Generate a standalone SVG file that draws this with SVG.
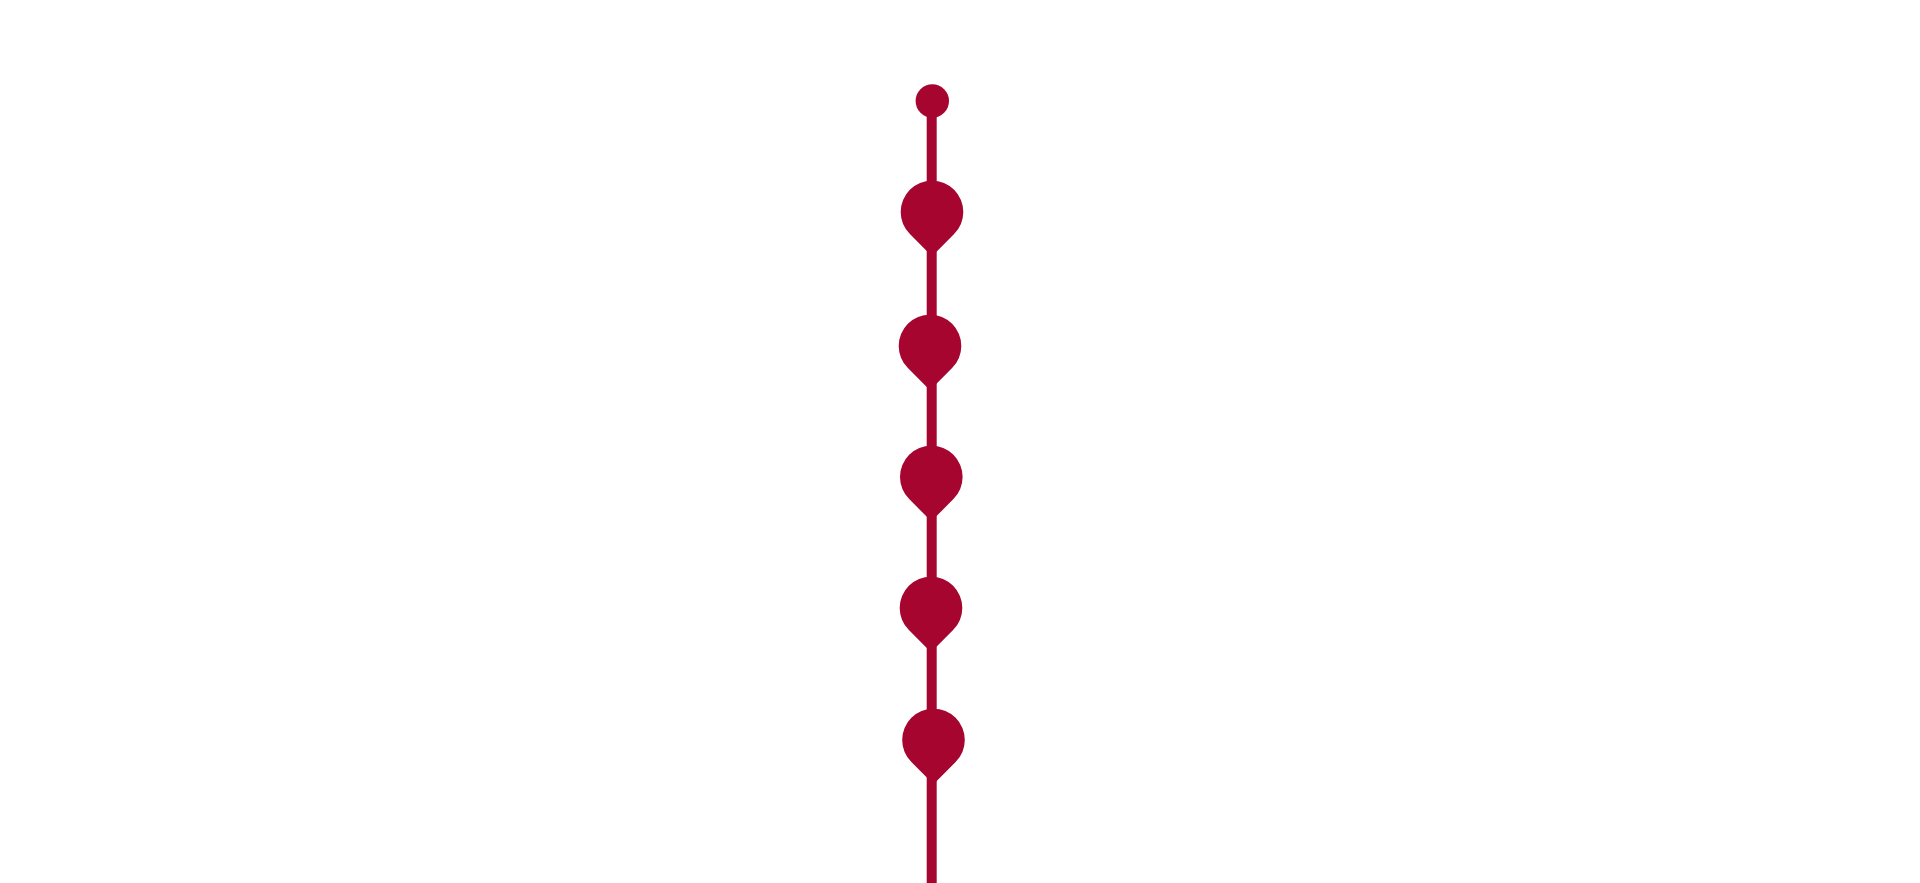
<svg xmlns="http://www.w3.org/2000/svg" width="1920" height="883" viewBox="0 0 1920 883">
<defs>
<style>
.line{stroke:#a6052f;stroke-width:10;fill:none}
.node{fill:#a6052f}
</style>
<path id="drop" d="M0,44.3 L-22.1,22.1 A31.3,31.3 0 1 1 22.1,22.1 Z"/>
</defs>
<rect width="1920" height="883" fill="#ffffff"/>
<g id="connectors">
<line class="line" x1="931.7" y1="101" x2="931.7" y2="883"/>
</g>
<g id="start" class="node"><circle cx="932.3" cy="101" r="16.7"/></g>
<g id="node1" class="node"><use href="#drop" x="932" y="212"/></g>
<g id="node2" class="node"><use href="#drop" x="930" y="346"/></g>
<g id="node3" class="node"><use href="#drop" x="931.3" y="477"/></g>
<g id="node4" class="node"><use href="#drop" x="931" y="608"/></g>
<g id="node5" class="node"><use href="#drop" x="933.5" y="740"/></g>
</svg>
